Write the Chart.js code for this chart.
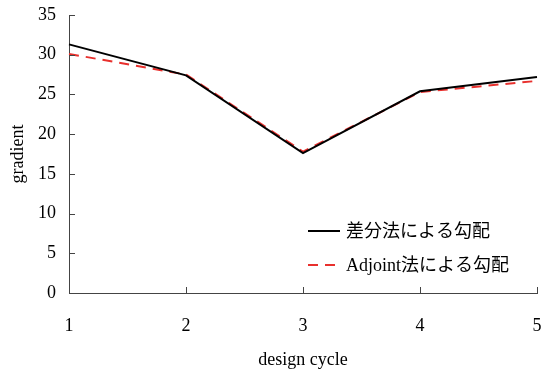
<!DOCTYPE html>
<html>
<head>
<meta charset="utf-8">
<script src="https://cdn.jsdelivr.net/npm/chart.js@4.4.1/dist/chart.umd.min.js"></script>
<style>
  html, body { margin: 0; padding: 0; background: #fff; }
  #wrap { width: 543px; height: 371px; }
</style>
</head>
<body>
<div id="wrap"><canvas id="lineChart" width="543" height="371"></canvas></div>
<script>
// design cycles on the x axis
const cycles = ['1', '2', '3', '4', '5'];
// gradient by finite differences
const diffGrad = [31.3, 27.4, 17.6, 25.4, 27.2];
// gradient by adjoint method
const adjointGrad = [30.1, 27.5, 17.8, 25.3, 26.7];
const seriesNames = ['差分法による勾配', 'Adjoint法による勾配'];
const yTicks = [0, 5, 10, 15, 20, 25, 30, 35];

const FONT = '"Liberation Serif", "Noto Sans CJK JP", serif';
const AXIS_COLOR = '#444';

// inward tick marks, like the original figure
const innerTicks = {
  id: 'innerTicks',
  afterDraw(chart) {
    const ctx = chart.ctx;
    const x = chart.scales.x, y = chart.scales.y;
    ctx.save();
    ctx.strokeStyle = AXIS_COLOR;
    ctx.lineWidth = 1;
    ctx.beginPath();
    yTicks.forEach(v => {
      const py = Math.round(y.getPixelForValue(v)) + 0.5;
      ctx.moveTo(x.left, py);
      ctx.lineTo(x.left + 6, py);
    });
    cycles.forEach((c, i) => {
      const px = Math.round(x.getPixelForValue(i)) + 0.5;
      ctx.moveTo(px, y.bottom);
      ctx.lineTo(px, y.bottom - 6);
    });
    ctx.stroke();
    ctx.restore();
  }
};

// legend drawn inside the plot area
const innerLegend = {
  id: 'innerLegend',
  afterDraw(chart) {
    const ctx = chart.ctx;
    const area = chart.chartArea;
    ctx.save();
    ctx.font = '18px ' + FONT;
    ctx.textBaseline = 'middle';
    ctx.fillStyle = '#000';
    chart.data.datasets.forEach((ds, i) => {
      const yy = area.top + 216 + i * 34;
      const x0 = area.left + 239;
      ctx.strokeStyle = ds.borderColor;
      ctx.lineWidth = ds.borderWidth;
      ctx.setLineDash(ds.borderDash || []);
      ctx.beginPath();
      ctx.moveTo(x0, yy);
      ctx.lineTo(x0 + 32, yy);
      ctx.stroke();
      ctx.setLineDash([]);
      ctx.fillText(ds.label, x0 + 38, yy + 1);
    });
    ctx.restore();
  }
};

new Chart(document.getElementById('lineChart'), {
  type: 'line',
  data: {
    labels: cycles,
    datasets: [{
      label: seriesNames[0],
      data: diffGrad,
      borderColor: '#000',
      borderWidth: 2,
      pointRadius: 0,
      tension: 0
    }, {
      label: seriesNames[1],
      data: adjointGrad,
      borderColor: '#e8302d',
      borderWidth: 2,
      borderDash: [10, 7],
      pointRadius: 0,
      tension: 0
    }]
  },
  options: {
    responsive: false,
    animation: false,
    layout: { padding: { top: 15, right: 6, left: 0, bottom: 0 } },
    plugins: { legend: { display: false }, tooltip: { enabled: false } },
    scales: {
      x: {
        offset: false,
        grid: { display: false, drawTicks: false },
        border: { display: true, color: AXIS_COLOR, width: 1 },
        ticks: { color: '#000', font: { family: FONT, size: 18 }, padding: 22, maxRotation: 0 },
        title: { display: true, text: 'design cycle', color: '#000', font: { family: FONT, size: 18 }, padding: { top: 8, bottom: 0 } },
        afterFit(s) { s.height = 78; s.paddingLeft = 0; s.paddingRight = 0; }
      },
      y: {
        min: 0, max: 35,
        afterBuildTicks(s) { s.ticks = yTicks.map(v => ({ value: v })); },
        grid: { display: false, drawTicks: false },
        border: { display: true, color: AXIS_COLOR, width: 1 },
        ticks: { color: '#000', font: { family: FONT, size: 18 }, padding: 13 },
        title: { display: true, text: 'gradient', color: '#000', font: { family: FONT, size: 18 }, padding: { top: 7, bottom: 0 } },
        afterFit(s) { s.width = 69; s.paddingTop = 0; s.paddingBottom = 0; }
      }
    }
  },
  plugins: [innerTicks, innerLegend]
});
</script>
</body>
</html>
